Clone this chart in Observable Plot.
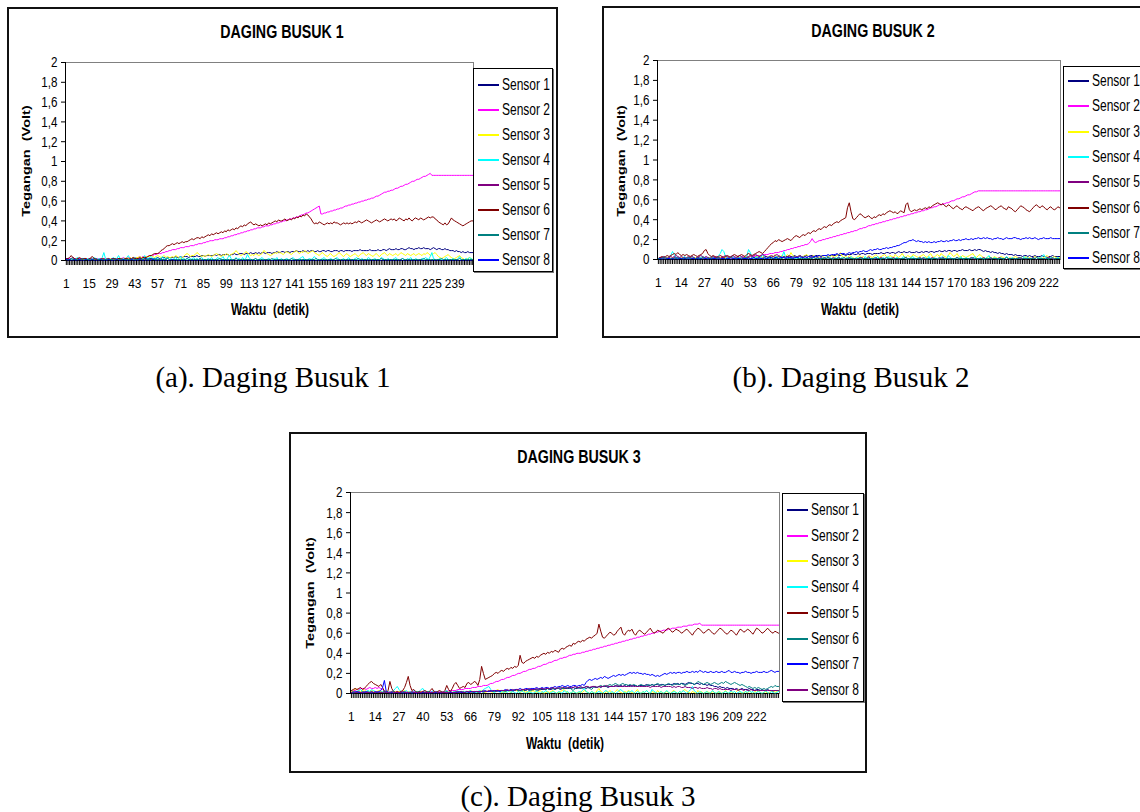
<!DOCTYPE html>
<html>
<head>
<meta charset="utf-8">
<script src="https://cdn.jsdelivr.net/npm/d3@7"></script>
<script src="https://cdn.jsdelivr.net/npm/@observablehq/plot@0.6"></script>
<style>
html,body{margin:0;padding:0;background:#fff;}
body{position:relative;width:1140px;height:812px;overflow:hidden;}
</style>
</head>
<body>
<script>
// ---------------- DATA ----------------
const sensorNames = ["Sensor 1","Sensor 2","Sensor 3","Sensor 4","Sensor 5","Sensor 6","Sensor 7","Sensor 8"];
const yTicks = [0,0.2,0.4,0.6,0.8,1,1.2,1.4,1.6,1.8,2];
const yTickLabels = ["0","0,2","0,4","0,6","0,8","1","1,2","1,4","1,6","1,8","2"];
const aXLabels = [1,15,29,43,57,71,85,99,113,127,141,155,169,183,197,211,225,239];
const bXLabels = [1,14,27,40,53,66,79,92,105,118,131,144,157,170,183,196,209,222];
const cXLabels = [1,14,27,40,53,66,79,92,105,118,131,144,157,170,183,196,209,222];

// values in hundredths of a volt, one per second
// ---- DAGING BUSUK 1 ----
const a_s1 = [1,1,0,1,1,1,0,1,1,1,1,0,1,1,1,1,1,0,1,1,1,1,1,1,1,
1,1,1,1,1,1,1,1,1,2,1,1,1,2,1,1,2,2,1,2,2,2,1,2,2,
2,2,2,2,2,2,3,2,2,3,3,2,3,3,3,3,3,4,3,3,4,3,4,4,4,
3,4,4,4,4,5,4,4,5,5,4,5,5,5,5,5,6,5,6,6,5,6,6,6,6,
5,6,6,7,6,6,7,7,7,6,7,7,7,8,7,7,8,7,8,7,8,8,7,8,8,
8,7,8,8,9,8,8,9,9,8,9,9,8,9,9,9,10,9,9,9,10,9,9,10,9,
10,10,9,9,10,9,9,10,10,9,10,10,9,9,10,10,10,9,10,10,9,10,10,10,10,
9,10,10,10,10,11,10,10,10,10,10,11,10,10,10,10,11,10,10,11,11,10,11,12,11,
11,11,12,11,11,12,12,11,11,12,13,12,12,11,12,12,13,12,12,13,12,12,12,11,12,
13,12,11,12,12,11,11,12,11,11,10,10,10,9,10,9,9,8,9,8,8,9,8,8,8];
const a_s2 = [1,1,2,1,1,2,1,1,1,2,1,1,2,1,1,1,2,1,1,2,1,1,1,2,1,
1,2,1,2,2,1,2,2,2,2,3,2,2,3,3,2,3,3,3,3,4,3,4,4,4,
4,5,5,5,6,6,7,7,7,8,8,9,9,10,10,11,11,11,12,12,13,13,13,14,14,
14,15,15,15,16,16,17,17,17,18,18,19,19,20,20,20,21,21,21,22,22,22,23,23,24,
24,25,25,26,26,27,27,28,28,29,29,30,30,31,31,32,32,33,33,33,34,34,35,35,35,
36,36,37,37,38,38,39,39,40,40,41,41,42,42,43,43,44,44,45,46,46,47,48,48,49,
50,51,52,53,54,55,47,47,48,48,49,49,50,50,51,51,52,52,53,53,54,55,55,56,56,
57,57,58,58,59,59,60,60,61,61,62,62,63,63,64,65,65,66,67,68,69,69,70,70,71,
71,72,73,73,74,75,75,76,77,77,78,79,80,80,81,82,82,83,84,85,85,86,87,88,86,
86,86,86,86,86,86,86,86,86,86,86,86,86,86,86,86,86,86,86,86,86,86,86,86,86];
const a_s3 = [1,1,1,1,1,1,2,1,1,1,1,1,2,1,1,1,2,2,1,1,1,1,2,1,1,
1,2,2,1,1,2,2,1,2,2,2,2,3,2,3,2,3,2,3,3,4,3,3,4,4,
4,4,5,4,3,4,5,4,3,4,5,3,4,3,3,4,3,5,4,3,2,3,4,6,7,
6,4,5,5,6,8,7,5,4,5,4,5,6,5,4,5,6,7,6,5,4,6,5,7,6,
5,6,7,8,10,8,6,5,6,7,9,8,6,5,6,5,7,6,5,6,7,10,9,7,6,
5,6,7,8,7,9,8,7,6,8,9,8,7,6,8,9,10,8,7,9,8,10,9,7,8,
9,10,8,7,6,5,7,8,6,5,4,6,7,5,4,5,6,8,7,5,4,6,7,5,4,
5,6,7,5,4,6,7,8,6,5,7,6,5,4,6,7,5,4,6,7,8,6,5,7,6,
5,6,7,5,6,8,7,6,5,7,6,5,6,7,5,6,7,6,5,7,6,8,7,5,6,
7,8,6,4,3,2,3,4,5,6,4,3,2,2,3,4,5,3,2,1,1,2,3,2,1];
const a_s4 = [1,2,1,1,2,1,2,3,1,1,2,1,1,2,1,1,2,3,2,1,2,1,3,8,2,
1,2,1,2,3,1,2,5,2,1,2,1,3,5,2,1,2,3,2,1,3,2,1,5,3,
2,3,4,2,1,3,2,1,2,4,1,2,3,1,2,1,2,3,1,2,4,1,2,1,2,
1,2,1,3,1,2,1,2,3,1,0,1,2,1,3,1,0,2,3,1,2,4,1,0,3,
5,2,0,1,3,1,2,0,3,1,2,6,3,1,0,1,2,0,1,2,3,1,0,1,2,
1,0,2,1,3,0,1,2,0,1,2,1,0,2,3,1,0,1,2,3,4,1,0,1,2,
1,2,4,2,1,0,1,2,3,1,0,1,2,1,0,2,3,1,0,1,2,0,1,3,1,
0,1,2,3,1,0,2,1,0,1,3,2,0,1,2,1,0,1,3,2,1,0,2,1,0,
1,2,3,1,0,1,2,1,0,2,1,3,1,0,2,1,0,1,2,1,3,2,1,4,8,
2,1,0,1,2,1,0,2,3,1,0,1,2,1,0,2,4,1,0,1,2,1,3,2,1];
const a_s5 = [2,2,1,2,3,2,1,2,2,1,2,2,1,1,2,2,1,2,2,1,1,2,1,2,1,
2,1,1,2,2,1,1,2,1,2,1,1,2,1,1,1,2,1,1,1,2,1,1,1,1,
1,1,1,1,1,0,1,1,0,1,0,1,0,0,1,0,0,1,0,0,0,1,0,0,0,
0,0,1,0,0,0,0,1,0,0,0,0,0,1,0,0,0,0,0,0,1,0,0,0,0,
0,0,0,1,0,0,0,0,0,0,0,1,0,0,0,0,0,0,0,0,0,0,1,0,0,
0,0,0,0,0,1,0,0,0,0,0,0,0,0,0,0,1,0,0,0,0,0,0,0,0,
0,1,0,0,0,0,0,0,0,0,0,0,1,0,0,0,0,0,0,0,0,0,0,0,1,
0,0,0,0,0,0,0,0,1,0,0,0,0,0,0,0,0,0,0,1,0,0,0,0,0,
0,0,0,0,0,1,0,0,0,0,0,0,0,0,0,0,0,1,0,0,0,0,0,0,0,
0,0,0,1,0,0,0,0,0,0,0,0,0,0,1,0,0,0,0,0,0,0,0,1,0];
const a_s6 = [1,2,3,5,3,2,1,2,3,2,1,2,2,1,1,3,4,2,1,1,1,1,2,1,1,
1,2,1,1,2,2,1,2,2,1,1,2,2,1,2,2,3,2,2,2,3,2,3,3,3,
4,5,5,6,7,7,7,8,10,11,12,14,15,15,16,17,16,17,18,17,18,19,18,19,19,
20,21,22,21,22,23,23,22,24,23,24,25,26,25,27,26,27,28,27,28,29,28,30,29,31,
30,31,32,31,33,32,34,35,34,36,35,37,38,39,37,36,37,36,35,36,35,36,37,36,38,
37,38,39,40,39,41,40,40,41,42,40,41,42,41,43,42,44,43,45,44,46,45,47,46,44,
42,39,37,38,37,39,38,37,36,37,38,37,38,37,39,38,38,37,36,37,38,37,38,37,38,
37,38,39,38,40,39,38,39,40,41,40,39,38,39,40,41,40,39,40,41,42,41,40,41,42,
41,42,40,41,43,42,41,40,42,41,43,41,40,42,43,42,41,43,42,41,42,43,44,43,44,
44,42,41,39,38,37,36,38,36,37,40,43,41,40,39,38,37,36,35,36,37,38,39,40,40];
const a_s7 = [1,1,1,2,1,1,1,1,1,1,2,1,1,1,1,1,1,1,2,1,1,1,1,1,1,
1,1,1,1,1,2,1,1,1,1,1,1,1,1,1,2,1,1,1,1,1,1,1,2,1,
1,1,2,1,1,1,1,1,1,1,1,1,2,1,1,1,1,1,1,1,1,1,1,1,2,
1,1,1,1,1,1,1,2,1,1,1,1,1,1,1,1,1,1,1,2,1,1,1,1,1,
1,1,1,1,2,1,1,1,1,1,1,1,1,1,1,1,2,1,1,1,1,1,1,1,1,
1,2,1,1,1,1,1,1,1,1,1,1,1,2,1,1,1,1,1,1,1,1,1,1,1,
1,1,1,2,1,1,1,1,1,1,1,1,1,1,1,2,1,1,1,1,1,1,1,1,1,
1,1,1,1,2,1,1,1,1,1,1,1,1,1,1,1,1,1,2,1,1,1,1,1,1,
1,1,1,1,1,1,2,1,1,1,1,1,1,1,1,1,1,1,1,2,1,1,1,1,1,
1,1,1,1,1,2,1,1,1,1,1,1,1,1,1,1,2,1,1,1,1,1,1,1,1];
const a_s8 = [1,0,1,0,0,1,0,0,1,0,0,0,1,0,0,0,1,0,0,0,0,1,0,0,0,
0,1,0,0,0,0,1,0,0,0,1,0,0,0,0,1,0,0,0,0,1,0,0,0,0,
0,0,0,1,0,0,0,0,0,0,0,0,0,0,0,1,0,0,0,0,0,0,0,0,0,
0,0,0,0,0,0,0,0,0,0,0,0,0,0,0,0,0,0,0,0,0,0,0,0,0,
0,0,0,0,0,0,0,0,0,0,0,0,0,0,0,0,0,0,0,0,0,0,0,0,0,
0,0,0,0,0,0,0,0,0,0,0,0,0,0,0,0,0,0,0,0,0,0,0,0,0,
0,0,0,0,0,0,0,0,0,0,0,0,0,0,0,0,0,0,0,0,0,0,0,0,0,
0,0,0,0,0,0,0,0,0,0,0,0,0,0,0,0,0,0,0,0,0,0,0,0,0,
0,0,0,0,0,0,0,0,0,0,0,0,0,0,0,0,0,0,0,0,0,0,0,0,0,
0,0,0,0,0,0,0,0,0,0,0,0,0,0,0,0,0,0,0,0,0,0,0,0,0];

// ---- DAGING BUSUK 2 ----
const b_s1 = [1,1,2,1,1,2,2,1,1,2,1,2,2,1,1,2,1,2,2,1,2,1,2,2,1,
2,2,1,2,2,1,2,2,1,2,2,2,1,2,2,1,2,2,2,1,2,2,2,1,2,
2,2,3,2,2,3,2,3,3,2,3,3,2,3,3,3,2,3,3,3,2,3,3,3,3,
3,3,4,3,3,4,3,3,4,4,3,4,4,3,4,4,4,3,4,4,4,3,4,4,4,
4,5,4,4,5,5,4,5,5,5,6,5,5,6,5,6,6,5,6,6,6,5,6,6,6,
6,7,6,6,7,7,6,7,7,6,7,8,7,7,8,7,7,8,7,7,7,8,7,7,8,
7,8,8,7,8,8,7,8,8,9,8,8,9,8,9,9,8,9,9,8,9,9,10,9,9,
9,10,9,9,10,9,10,10,9,8,9,8,8,7,8,7,7,6,7,6,6,5,6,5,5,
5,4,5,4,4,4,3,4,4,3,4,3,3,4,3,3,3,4,3,3,2,3,3,4,3,3,3,3];
const b_s2 = [1,1,1,2,1,1,2,1,1,1,2,1,1,2,1,1,1,2,1,1,2,1,1,1,2,
1,1,2,1,1,2,1,2,2,1,2,2,1,2,2,2,1,2,2,2,3,2,2,3,2,
3,3,3,3,3,4,4,4,4,5,5,5,5,6,6,6,7,7,7,8,8,9,9,10,10,
11,11,12,12,13,13,14,14,15,15,16,18,21,18,17,18,19,19,20,20,21,21,22,22,23,
23,24,24,25,25,26,26,27,27,28,28,29,29,30,31,31,32,32,33,34,34,35,35,36,36,
37,37,38,38,39,39,40,40,41,41,42,42,43,43,44,44,45,45,46,46,47,47,48,48,49,
49,50,50,51,52,52,53,53,54,55,55,56,56,57,57,58,59,59,60,61,61,62,63,63,64,
65,65,66,67,68,68,69,69,69,69,69,69,69,69,69,69,69,69,69,69,69,69,69,69,69,
69,69,69,69,69,69,69,69,69,69,69,69,69,69,69,69,69,69,69,69,69,69,69,69,69,69,69,69];
const b_s3 = [1,1,2,1,1,2,1,1,2,1,1,1,2,2,1,1,2,1,1,2,1,2,1,1,2,
1,2,1,1,2,2,1,1,2,1,2,1,1,2,1,2,2,1,1,2,3,2,1,2,3,
2,3,4,2,1,3,2,4,3,2,3,1,2,4,3,2,5,3,2,3,4,2,3,5,3,
7,4,3,2,3,4,2,3,4,5,3,2,3,4,2,3,2,4,3,2,1,3,2,4,3,
2,4,5,7,3,2,3,2,4,3,2,1,2,3,4,2,3,1,2,4,3,2,3,5,3,
2,3,4,5,3,2,4,3,2,5,3,2,4,6,3,2,4,3,2,5,4,3,2,3,4,
5,3,2,4,6,3,2,4,5,3,6,4,3,2,4,7,5,3,4,6,3,2,4,3,2,
3,4,5,6,3,2,4,5,3,2,1,2,3,2,1,3,2,1,2,3,2,1,2,1,2,
1,2,3,2,1,2,1,2,3,1,2,1,2,3,2,1,2,1,2,3,4,2,1,2,3,2,1,2];
const b_s4 = [1,2,1,3,2,1,2,4,8,5,2,1,2,1,2,3,1,2,1,3,2,1,2,1,2,
3,2,1,2,1,3,2,1,2,4,6,10,8,3,2,1,2,3,1,2,1,2,3,1,2,
3,10,7,2,1,2,3,1,2,5,3,1,2,3,2,1,2,3,1,2,3,8,2,1,2,
1,3,2,1,2,1,3,2,1,2,1,2,1,3,1,2,1,0,2,1,3,1,2,1,0,
2,1,3,1,2,0,1,2,1,3,1,0,2,1,2,1,0,3,1,2,1,0,2,1,3,
1,0,2,1,0,3,1,2,0,1,2,1,0,2,3,1,0,1,2,3,1,0,2,1,0,
1,2,0,3,1,0,2,1,0,1,2,3,1,0,4,2,1,0,1,2,0,3,1,0,2,
1,0,2,1,3,1,0,2,1,0,1,2,4,1,0,2,1,0,1,2,0,1,3,1,0,
2,1,0,1,2,1,0,3,1,2,0,1,2,1,0,2,1,3,5,2,1,0,2,1,0,1,2,1];
const b_s5 = [1,2,2,3,2,1,2,3,2,3,4,3,2,3,2,1,2,3,2,3,2,1,2,3,4,
3,2,3,2,1,2,3,2,3,2,1,2,3,4,3,2,3,4,3,2,3,4,3,2,1,
2,3,4,3,4,5,4,3,4,5,4,3,2,3,4,3,4,5,4,3,2,3,2,3,4,
3,2,3,2,3,4,3,2,3,2,1,2,3,2,1,2,1,2,1,2,1,2,1,1,2,
1,1,2,1,1,0,1,1,2,1,1,1,0,1,1,2,1,1,1,3,1,1,0,1,1,
1,2,1,1,0,1,1,1,2,1,1,0,1,1,1,2,1,1,0,1,1,1,1,2,1,
1,0,1,1,1,2,1,1,0,1,1,2,1,1,1,0,1,1,1,2,1,1,0,1,1,
1,1,2,1,0,1,1,1,1,2,1,0,1,1,1,1,0,1,2,1,1,1,0,1,1,
1,1,0,1,2,1,1,1,0,1,1,1,2,1,0,1,1,1,1,0,1,2,1,1,0,1,1,1];
const b_s6 = [1,2,3,2,3,4,3,4,5,6,5,7,5,4,5,4,5,4,3,4,5,4,3,4,5,
6,9,10,6,4,3,4,3,2,3,4,3,2,3,4,3,2,4,5,4,3,4,5,4,3,
5,6,5,4,5,6,7,8,7,6,8,10,12,14,16,17,19,18,20,19,18,19,20,21,20,
19,21,23,24,23,22,24,25,24,26,27,26,28,29,28,30,31,30,32,33,32,34,35,34,36,
37,38,37,39,40,41,42,52,57,48,41,40,42,44,46,45,43,42,43,44,42,41,43,42,44,
45,44,46,45,47,48,49,48,47,48,46,47,49,48,47,55,57,50,48,49,50,49,50,51,50,
51,52,51,53,52,54,55,56,57,56,55,56,54,53,55,54,52,51,53,54,52,51,50,52,53,
52,51,50,49,51,52,53,52,50,49,51,52,53,54,53,51,50,52,53,54,52,51,50,53,52,
51,49,48,50,52,54,53,52,50,49,48,50,52,54,55,53,52,54,53,51,50,52,53,51,50,51,53,52];
const b_s7 = [1,1,1,2,1,1,1,1,1,1,2,1,1,1,1,1,1,2,1,1,1,1,1,1,1,
1,2,1,1,1,1,1,1,1,2,1,1,1,1,1,1,2,1,1,1,1,1,1,1,2,
1,1,1,1,2,1,1,1,1,1,1,1,2,1,1,1,1,1,1,1,1,2,1,1,1,
1,1,1,2,1,1,1,1,1,1,1,1,1,2,1,1,1,1,1,1,1,2,1,1,1,
1,1,1,1,1,2,1,1,1,1,1,1,1,1,2,1,1,1,1,1,1,1,1,2,1,
1,1,1,1,2,1,1,1,1,1,1,1,1,1,1,2,1,1,1,1,1,1,1,1,1,
2,1,1,1,1,1,1,1,1,2,1,1,1,1,1,1,1,1,1,2,1,1,1,1,1,
1,1,1,2,1,1,1,1,1,1,1,1,1,2,1,1,1,1,1,1,1,1,2,1,1,
1,1,1,1,1,2,1,1,1,1,1,1,1,1,2,1,1,1,1,1,1,1,1,2,1,1,1,1];
const b_s8 = [0,1,0,1,0,1,1,0,1,0,1,0,1,1,0,1,0,1,0,1,1,0,1,0,1,
0,1,1,0,1,0,1,1,0,1,0,1,1,0,1,1,0,1,1,0,1,1,0,1,1,
1,0,1,1,2,1,1,2,1,1,2,1,1,2,2,1,2,2,1,2,2,2,1,2,2,
2,1,2,2,2,3,2,2,3,2,3,3,2,3,3,3,4,3,4,4,4,5,4,5,5,
5,6,5,6,6,6,5,6,7,6,7,7,8,7,8,8,9,8,8,9,10,9,10,10,11,
10,10,11,11,12,11,12,12,13,13,14,14,15,16,17,17,18,19,19,20,19,18,19,18,18,
17,18,17,18,17,17,18,17,18,18,19,18,18,19,18,19,19,20,19,19,20,19,20,20,21,
20,20,21,20,21,21,22,21,21,22,21,22,21,21,20,21,21,22,21,21,20,21,22,21,21,
21,22,22,21,21,20,21,21,22,21,22,21,21,22,21,20,21,21,22,21,21,21,22,21,21,21,21,21];

// ---- DAGING BUSUK 3 ----
const c_s1 = [1,1,1,2,1,1,1,1,1,2,1,1,1,1,1,1,2,1,1,1,1,1,1,1,1,
1,1,1,1,1,1,1,1,1,1,1,1,1,2,1,1,1,1,1,1,1,1,1,1,1,
1,1,1,1,1,1,1,1,2,1,1,2,1,2,1,2,2,1,2,2,2,2,2,2,2,
2,3,2,2,3,2,3,3,2,3,3,3,3,2,3,3,3,3,3,3,3,4,3,4,3,
4,4,3,4,4,4,4,5,4,4,5,4,5,5,4,5,5,5,5,5,5,6,5,5,6,
5,6,6,5,6,6,6,7,6,6,7,6,7,7,7,6,7,7,7,8,7,7,8,7,8,
7,8,8,7,8,8,7,8,8,8,8,9,8,8,9,8,9,9,8,9,9,8,9,9,9,
9,10,9,10,9,10,10,9,10,11,10,10,9,10,10,9,10,9,9,8,9,8,8,7,7,
6,7,6,6,5,6,5,5,5,4,5,4,4,5,4,4,4,5,4,4,3,4,4,3,4,
3,3,4,3,3,2,3,3,3];
const c_s2 = [2,3,3,4,4,5,5,5,4,5,6,5,5,6,5,6,5,4,3,2,2,2,1,2,2,
2,1,2,2,1,2,2,1,1,2,2,1,2,2,1,2,2,1,2,2,2,1,2,2,2,
2,2,2,3,3,3,3,3,4,4,4,4,5,5,5,5,6,6,6,7,7,7,8,8,8,
9,10,10,11,12,12,13,14,14,15,16,16,17,18,18,19,20,20,21,22,22,23,24,24,25,
25,26,27,27,28,29,29,30,31,31,32,33,33,34,35,35,36,36,37,38,38,39,39,40,40,
40,41,41,42,42,43,43,44,44,45,45,46,46,47,47,48,48,49,49,50,50,51,51,52,52,
53,53,54,54,55,55,56,56,57,57,58,58,59,59,60,60,61,61,62,62,63,63,63,64,64,
65,65,65,66,66,66,67,67,67,68,68,68,69,69,69,70,68,68,68,68,68,68,68,68,68,
68,68,68,68,68,68,68,68,68,68,68,68,68,68,68,68,68,68,68,68,68,68,68,68,68,
68,68,68,68,68,68,68,68,68];
const c_s3 = [2,3,5,4,3,2,3,4,2,1,2,3,2,1,2,3,2,1,2,3,2,1,2,1,2,
1,2,1,2,3,1,2,1,2,1,1,2,1,2,1,2,1,2,1,1,2,1,2,1,2,
1,2,1,2,1,1,2,1,2,1,2,1,2,1,2,3,2,1,2,1,2,3,2,1,2,
3,2,1,2,3,4,2,1,2,1,3,2,1,2,4,3,2,1,2,3,1,2,1,2,3,
2,1,2,3,1,0,1,2,1,2,3,1,0,1,2,3,4,2,1,0,1,2,1,0,1,
2,1,3,2,1,0,2,1,0,3,5,2,1,0,2,1,3,1,0,2,4,2,1,0,2,
1,3,2,1,0,2,4,1,0,2,1,3,1,0,2,1,0,3,1,2,0,1,2,1,0,
2,3,1,0,2,1,3,4,2,1,0,2,1,0,3,1,2,0,1,2,1,0,2,1,0,
1,2,0,1,3,1,0,2,1,0,2,4,1,0,1,2,0,3,1,0,2,1,3,1,0,
1,2,0,1,2,3,1,2,3];
const c_s4 = [3,2,1,2,3,4,2,1,2,3,2,4,3,2,1,2,1,2,3,1,2,1,2,3,5,
7,4,2,1,2,3,1,2,1,3,2,1,2,4,5,2,1,2,1,2,3,1,2,1,2,
1,2,3,1,2,1,2,1,3,1,2,1,2,1,2,3,1,2,1,2,3,2,4,5,6,
7,4,2,1,2,3,1,2,1,2,1,3,1,2,1,0,2,1,3,1,0,1,2,1,0,
1,2,1,0,2,1,3,1,0,1,2,1,0,2,1,0,3,1,2,0,1,2,1,0,2,
1,3,5,2,1,0,2,1,0,1,2,1,0,2,3,1,0,2,1,0,1,3,4,2,1,
0,2,1,3,1,0,2,1,0,2,1,3,1,0,4,2,1,0,1,2,0,1,3,1,0,
1,2,1,0,2,1,3,1,0,2,4,7,3,1,0,2,1,0,1,2,0,1,3,1,0,
2,1,0,1,2,1,0,3,1,2,0,1,2,1,0,2,1,3,1,2,0,1,2,1,0,
1,3,1,0,2,1,0,1,2];
const c_s5 = [3,4,5,4,5,6,4,5,7,9,11,12,10,9,8,7,9,6,2,1,3,12,5,2,1,
2,1,2,3,6,11,17,8,3,4,2,1,2,1,2,3,2,1,3,5,2,1,2,3,2,
1,3,8,4,2,5,9,11,8,5,6,7,6,10,11,9,10,12,11,8,14,27,20,14,15,
16,17,18,20,21,20,22,23,22,24,25,24,26,25,27,26,28,38,31,30,32,33,34,35,36,
35,37,36,38,39,40,39,41,40,42,41,43,42,41,44,45,44,46,47,48,47,50,49,51,52,
51,53,52,54,55,56,55,57,58,60,69,62,56,55,57,59,61,60,58,59,62,64,66,60,58,
61,63,62,64,60,58,61,63,62,60,59,61,63,65,62,60,61,63,62,61,60,62,64,65,63,
61,62,64,63,62,60,61,63,64,62,60,58,61,63,65,64,62,60,61,63,64,62,60,59,61,
63,65,64,62,60,59,61,63,62,60,58,61,64,63,61,62,64,63,61,59,62,65,64,62,60,
61,63,65,63,61,60,62,61,60];
const c_s6 = [1,1,2,1,1,1,2,1,1,1,1,2,1,1,1,1,1,1,2,1,1,1,1,2,1,
1,1,1,1,2,1,1,1,1,1,1,2,1,1,1,1,1,2,1,1,1,1,1,1,1,
1,1,2,1,1,1,1,2,1,1,2,1,1,2,1,2,1,2,2,1,2,2,1,2,2,
2,2,3,2,2,3,2,3,3,2,3,3,4,3,3,4,3,3,4,4,3,4,4,3,4,
4,3,4,4,5,4,4,5,4,5,5,4,5,5,6,5,5,6,5,6,4,3,5,6,5,
6,5,6,7,6,5,4,6,7,6,7,8,7,8,7,8,9,8,9,10,9,8,9,10,9,
9,8,9,8,9,8,7,8,9,8,7,8,9,8,9,8,9,10,9,8,9,8,9,10,9,
8,9,10,9,9,10,9,8,9,10,11,10,9,10,12,11,10,9,10,11,10,9,10,11,10,
9,10,11,10,12,11,10,9,10,11,10,9,8,9,8,7,6,7,6,5,6,5,6,5,4,
5,4,5,6,7,6,8,7,7];
const c_s7 = [1,0,1,2,1,1,0,1,2,1,1,0,1,2,1,2,3,6,13,2,1,0,1,0,1,
1,0,1,0,1,0,0,1,0,1,0,0,1,0,1,0,1,0,0,1,0,1,0,1,0,
1,1,0,1,1,1,0,1,1,2,1,1,1,2,1,2,2,1,2,2,1,2,2,3,2,
2,3,2,3,3,3,2,3,3,4,3,3,4,3,4,4,4,5,4,4,5,5,4,5,5,
5,6,5,5,6,5,6,6,5,6,6,7,6,7,7,8,7,7,8,7,7,8,8,7,8,
8,9,8,11,13,14,13,14,15,14,15,16,15,17,16,15,16,17,18,17,18,19,18,19,18,
19,20,21,20,21,20,21,20,20,19,20,19,19,18,19,18,17,18,17,18,19,20,19,20,21,
20,21,20,21,21,20,21,21,22,21,21,22,21,22,21,23,22,21,22,21,21,22,21,21,22,
21,21,22,21,21,22,23,21,21,22,21,21,20,21,21,22,21,21,20,21,21,22,21,21,21,
22,21,21,22,23,22,21,22,22];
const c_s8 = [1,2,1,1,2,1,1,2,1,1,1,2,1,1,2,1,1,1,2,1,1,1,2,1,1,
1,1,1,2,1,1,1,1,2,1,1,1,1,1,2,1,1,1,1,1,1,2,1,1,1,
1,1,1,1,2,1,1,1,2,1,2,1,1,2,2,1,2,2,2,2,2,2,3,2,2,
3,2,3,3,2,3,3,3,3,3,4,3,3,4,3,4,4,3,4,4,4,4,5,4,4,
4,5,4,5,5,4,5,5,5,5,6,5,5,6,5,6,6,5,6,6,6,6,7,6,6,
7,6,6,7,7,6,7,7,7,6,7,7,7,7,8,7,7,7,7,7,8,7,7,7,7,
7,7,7,8,7,7,7,7,7,7,7,7,7,6,7,7,7,7,7,6,7,7,7,7,7,
6,7,6,7,7,6,6,7,6,6,6,5,6,6,5,6,5,5,5,6,5,5,4,5,5,
4,5,4,4,4,4,4,3,4,4,4,3,4,4,3,4,3,3,4,3,3,3,3,3,3,
3,3,3,3,3,3,3,3,3];

// ---------------- STYLE / LAYOUT ----------------
const colorsAB = ["#000080","#FF00FF","#FFFF00","#00FFFF","#800080","#800000","#008080","#0000FF"];
const colorsC  = ["#000080","#FF00FF","#FFFF00","#00FFFF","#800000","#008080","#0000FF","#800080"];
const FONT = '"Liberation Sans",Arial,sans-serif';
const SERIF = '"Liberation Serif","Times New Roman",serif';
const SQ = 0.75;   // the chart pictures are horizontally compressed
const SQX = 0.88;  // x tick labels: smaller font, lighter compression (no overlap)

function el(css, text) {
  const e = document.createElement("div");
  e.style.cssText = "position:absolute;" + css;
  if (text != null) e.textContent = text;
  document.body.appendChild(e);
  return e;
}

function drawChart(cfg) {
  const L = cfg.layout;
  el(`left:${L.box[0]}px;top:${L.box[1]}px;width:${L.box[2]}px;height:${L.box[3]}px;border:2px solid #111;box-sizing:border-box;background:#fff;`);
  const ml = 50, mr = 2, mt = 10, mb = 34;
  const [pl, pt, pr, pb] = L.plot;
  const N = d3.max(cfg.series, s => s.length);
  const cats = d3.range(1, N + 1);
  const rows = cfg.series.flatMap((arr, si) => arr.map((v, i) => ({t: i + 1, v: v / 100, s: sensorNames[si]})));
  const w = pr - pl + ml + mr, h = pb - pt + mt + mb;
  const svg = Plot.plot({
    width: w, height: h,
    marginLeft: ml, marginRight: mr, marginTop: mt, marginBottom: mb,
    style: {fontFamily: FONT, fontSize: "15.5px", color: "#000", background: "transparent", overflow: "visible"},
    x: {type: "point", domain: cats, padding: 0.5, label: null},
    y: {domain: [0, 2], label: null},
    color: {domain: sensorNames, range: cfg.colors},
    marks: [
      Plot.frame({stroke: "#808080"}),
      Plot.ruleY([0], {stroke: "#000"}),
      Plot.line(rows, {x: "t", y: "v", z: "s", stroke: "s", strokeWidth: 1}),
      Plot.axisY(yTicks, {tickSize: 4, tickPadding: 4, stroke: "#000", tickFormat: d => yTickLabels[yTicks.indexOf(d)]}),
      Plot.axisX(cats, {tickSize: 5, stroke: "#000", tickFormat: () => ""}),
      Plot.axisX(cfg.xLabels, {tickSize: 0, tickPadding: 18, fontSize: 13.5, className: "xlab"})
    ]
  });
  svg.style.position = "absolute";
  svg.style.left = (pl - ml) + "px";
  svg.style.top = (pt - mt) + "px";
  document.body.appendChild(svg);
  d3.select(svg).append("line")
    .attr("x1", ml + 0.5).attr("x2", ml + 0.5).attr("y1", mt).attr("y2", h - mb)
    .attr("stroke", "#000");
  // condense tick label glyphs horizontally like the source picture
  d3.select(svg).selectAll("text").each(function () {
    const len = this.getComputedTextLength();
    if (len > 0) {
      const isX = this.closest(".xlab") != null;
      this.setAttribute("textLength", (len * (isX ? SQX : SQ)).toFixed(2));
      this.setAttribute("lengthAdjust", "spacingAndGlyphs");
    }
  });

  el(`left:${L.title[0]}px;top:${L.title[1]}px;transform:translate(-50%,-50%) scaleX(${SQ});font:bold 19px ${FONT};white-space:pre;color:#000;`, cfg.title);
  el(`left:${L.xtitle[0]}px;top:${L.xtitle[1]}px;transform:translate(-50%,-50%) scaleX(${SQ});font:bold 16px ${FONT};white-space:pre;color:#000;`, "Waktu  (detik)");
  el(`left:${L.ytitle[0]}px;top:${L.ytitle[1]}px;transform:translate(-50%,-50%) scaleX(${SQ}) rotate(-90deg);font:bold 14.5px ${FONT};white-space:pre;color:#000;`, "Tegangan  (Volt)");

  const lg = L.legend;
  const box = el(`left:${lg[0]}px;top:${lg[1]}px;width:${lg[2]}px;height:${lg[3]}px;border:1px solid #000;box-sizing:border-box;background:#fff;box-shadow:1px 1px 0 #777;`);
  sensorNames.forEach((name, i) => {
    const yy = lg[4] + i * lg[5] - lg[1];
    const sw = document.createElement("div");
    sw.style.cssText = `position:absolute;left:4px;top:${yy - 1}px;width:21px;height:0;border-top:2px solid ${cfg.colors[i]};`;
    box.appendChild(sw);
    const tx = document.createElement("div");
    tx.style.cssText = `position:absolute;left:28px;top:${yy}px;transform-origin:0 50%;transform:translateY(-50%) scaleX(${SQ});font:16px ${FONT};white-space:pre;color:#000;`;
    tx.textContent = name;
    box.appendChild(tx);
  });

  el(`left:${L.caption[0]}px;top:${L.caption[1]}px;transform:translate(-50%,-50%);font:29px ${SERIF};white-space:pre;color:#000;`, cfg.caption);
}

drawChart({
  title: "DAGING BUSUK 1", caption: "(a). Daging Busuk 1",
  series: [a_s1, a_s2, a_s3, a_s4, a_s5, a_s6, a_s7, a_s8],
  colors: colorsAB, xLabels: aXLabels,
  layout: {box: [7, 7, 551, 331], plot: [65, 62, 473, 260], title: [282, 32], xtitle: [270, 310], ytitle: [26, 161],
           legend: [473, 68, 80, 204, 84, 25], caption: [273, 377]}
});
drawChart({
  title: "DAGING BUSUK 2", caption: "(b). Daging Busuk 2",
  series: [b_s1, b_s2, b_s3, b_s4, b_s5, b_s6, b_s7, b_s8],
  colors: colorsAB, xLabels: bXLabels,
  layout: {box: [602, 6, 560, 332], plot: [657, 60, 1060, 259], title: [873, 31], xtitle: [860, 310], ytitle: [621, 161],
           legend: [1063, 66, 82, 203, 80, 25.3], caption: [851, 377]}
});
drawChart({
  title: "DAGING BUSUK 3", caption: "(c). Daging Busuk 3",
  series: [c_s1, c_s2, c_s3, c_s4, c_s5, c_s6, c_s7, c_s8],
  colors: colorsC, xLabels: cXLabels,
  layout: {box: [289, 432, 578, 341], plot: [350, 492, 779, 693], title: [579, 457], xtitle: [565, 744], ytitle: [310, 593],
           legend: [782, 493, 82, 209, 509, 25.7], caption: [578, 796]}
});
</script>
</body>
</html>
